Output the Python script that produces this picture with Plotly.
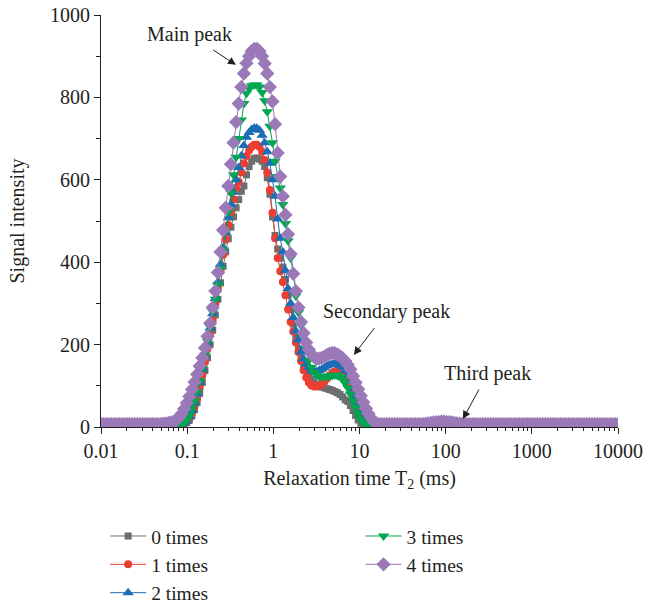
import numpy as np
import plotly.graph_objects as go

# ---------------- data ----------------
# T2 sampling grid (ms): 200 log-spaced points from 0.01 to 10000
T2_MS = np.logspace(-2, 4, 200).tolist()

# baseline before the main peak (indices 0-19)
HEAD = [7, 7, 7, 7, 7, 7, 7, 7, 7, 7,
        7, 7, 7, 7, 7, 7, 7, 7, 7, 7]

# baseline after the main peak incl. the tiny third peak (indices 110-199)
TAIL = [7, 7, 7, 7, 7, 7, 7, 7, 7, 7,
        7, 7, 7, 7, 7, 8, 9, 10, 11, 12,
        12, 13, 13, 12, 12, 11, 10, 9, 8, 7,
        7, 7, 7, 7, 7, 7, 7, 7, 7, 7,
        7, 7, 7, 7, 7, 7, 7, 7, 7, 7,
        7, 7, 7, 7, 7, 7, 7, 7, 7, 7,
        7, 7, 7, 7, 7, 7, 7, 7, 7, 7,
        7, 7, 7, 7, 7, 7, 7, 7, 7, 7,
        7, 7, 7, 7, 7, 7, 7, 7, 7, 7]

# main + secondary peak portion (indices 20-109) for each series
CORE_0 = [7, 7, 7, 7, 7, 7, 7, 7, 7, 7,
          7, 7, 8, 11, 17, 28, 42, 60, 82, 108,
          137, 168, 200, 235, 272, 310, 350, 390, 425, 457,
          485, 510, 532, 552, 572, 585, 612, 632, 645, 652,
          653, 650, 645, 632, 605, 565, 510, 465, 432, 410,
          388, 358, 320, 285, 250, 218, 190, 168, 152, 138,
          125, 115, 108, 103, 100, 97, 95, 93, 91, 89,
          86, 83, 79, 73, 66, 62, 52, 40, 28, 17,
          9, 7, 7, 7, 7, 7, 7, 7, 7, 7]

CORE_1 = [7, 7, 7, 7, 7, 7, 7, 7, 7, 7,
          7, 7, 8, 12, 20, 34, 50, 70, 95, 125,
          157, 190, 224, 260, 298, 338, 378, 418, 455, 490,
          522, 552, 580, 595, 618, 640, 658, 671, 680, 685,
          685, 680, 668, 648, 618, 575, 520, 458, 410, 378,
          352, 320, 285, 255, 232, 205, 182, 160, 138, 120,
          108, 101, 98, 98, 100, 105, 111, 118, 125, 131,
          135, 137, 136, 132, 124, 112, 97, 80, 62, 45,
          29, 16, 9, 7, 7, 7, 7, 7, 7, 7]

CORE_2 = [7, 7, 7, 7, 7, 7, 7, 7, 7, 7,
          7, 7, 9, 14, 24, 40, 58, 80, 108, 140,
          172, 205, 240, 275, 312, 352, 395, 435, 472, 508,
          540, 570, 600, 630, 658, 683, 703, 715, 722, 726,
          725, 720, 708, 690, 668, 640, 600, 560, 505, 458,
          425, 380, 336, 300, 266, 233, 211, 182, 165, 153,
          145, 139, 136, 135, 137, 140, 144, 148, 151, 153,
          154, 153, 150, 145, 137, 126, 111, 93, 74, 55,
          37, 21, 11, 7, 7, 7, 7, 7, 7, 7]

CORE_3 = [7, 7, 7, 7, 7, 7, 7, 7, 7, 7,
          7, 8, 11, 17, 28, 44, 63, 86, 112, 142,
          175, 208, 243, 280, 310, 345, 385, 430, 475, 522,
          568, 612, 655, 700, 745, 785, 810, 822, 828, 830,
          830, 825, 812, 792, 765, 730, 690, 645, 608, 580,
          540, 494, 452, 410, 368, 318, 278, 246, 220, 190,
          162, 145, 133, 126, 123, 122, 122, 123, 124, 125,
          126, 125, 122, 116, 107, 95, 80, 64, 48, 32,
          19, 10, 7, 7, 7, 7, 7, 7, 7, 7]

CORE_4 = [7, 7, 7, 7, 8, 8, 10, 11, 13, 17,
          23, 32, 44, 58, 74, 91, 109, 128, 148, 168,
          192, 220, 252, 290, 330, 375, 425, 478, 532, 585,
          638, 690, 740, 785, 825, 858, 883, 900, 912, 918,
          918, 912, 900, 882, 858, 825, 790, 735, 665, 608,
          560, 515, 468, 420, 372, 330, 290, 255, 228, 205,
          188, 177, 170, 166, 166, 168, 171, 175, 178, 180,
          179, 176, 172, 167, 160, 151, 140, 124, 108, 92,
          76, 60, 45, 32, 21, 13, 9, 7, 7, 7]

SERIES_NAMES = ["0 times", "1 times", "2 times", "3 times", "4 times"]
SERIES_CORES = [CORE_0, CORE_1, CORE_2, CORE_3, CORE_4]

X_TICK_VALS = [0.01, 0.1, 1, 10, 100, 1000, 10000]
X_TICK_TEXT = ["0.01", "0.1", "1", "10", "100", "1000", "10000"]
Y_TICK_VALS = [0, 200, 400, 600, 800, 1000]

# ---------------- style ----------------
COLORS = ["#6d6e70", "#ee3e32", "#1b6db5", "#00a650", "#9b79b8"]
SYMBOLS = ["square", "circle", "triangle-up", "triangle-down", "diamond"]
SIZES = [7, 8, 10, 10, 11]
LEGENDS = ["legend", "legend", "legend", "legend2", "legend2"]
TXT = "#231f20"
FONT = "Liberation Serif"

fig = go.Figure()
for name, core, c, s, sz, lg in zip(SERIES_NAMES, SERIES_CORES, COLORS,
                                     SYMBOLS, SIZES, LEGENDS):
    y = HEAD + core + TAIL
    fig.add_trace(go.Scatter(
        x=T2_MS, y=y, name=name, mode="lines+markers",
        line=dict(color=c, width=1),
        marker=dict(symbol=s, size=sz, color=c, line=dict(width=0)),
        legend=lg,
    ))

minor_x = [m * 10.0 ** e for e in range(-2, 4) for m in range(2, 10)]

fig.update_layout(
    width=659, height=610,
    margin=dict(l=101, r=41, t=15, b=183, autoexpand=False),
    paper_bgcolor="white", plot_bgcolor="white",
    font=dict(family=FONT, size=20, color=TXT),
    showlegend=True,
    legend=dict(x=0.008, y=-0.218, xanchor="left", yanchor="top",
                bgcolor="rgba(0,0,0,0)", font=dict(size=19.5),
                tracegroupgap=0, itemwidth=36),
    legend2=dict(x=0.502, y=-0.218, xanchor="left", yanchor="top",
                 bgcolor="rgba(0,0,0,0)", font=dict(size=19.5),
                 tracegroupgap=0, itemwidth=36),
    xaxis=dict(
        type="log", range=[-2, 4], automargin=False,
        showline=True, linecolor=TXT, linewidth=1, mirror=False,
        ticks="outside", ticklen=6, tickwidth=1, tickcolor=TXT,
        tickvals=X_TICK_VALS, ticktext=X_TICK_TEXT,
        ticklabeloverflow="allow",
        minor=dict(ticks="outside", ticklen=3, tickwidth=1,
                   tickcolor=TXT, tickvals=minor_x),
        showgrid=False, zeroline=False,
        title=dict(text="Relaxation time T<sub>2</sub> (ms)",
                   font=dict(size=20), standoff=9),
    ),
    yaxis=dict(
        range=[0, 1000], automargin=False,
        showline=True, linecolor=TXT, linewidth=1,
        ticks="outside", ticklen=6, tickwidth=1, tickcolor=TXT,
        tickvals=Y_TICK_VALS, ticklabeloverflow="allow",
        minor=dict(ticks="outside", ticklen=4, tickwidth=1,
                   tickcolor=TXT, dtick=100),
        showgrid=False, zeroline=False,
        title=dict(text="Signal intensity", font=dict(size=20), standoff=20),
    ),
)

ann_font = dict(family=FONT, size=20, color=TXT)
# (text, arrow head x, arrow head y in paper units, text offset ax, ay in px)
ANNOTS = [("Main peak", 0.261, 0.879, -46, -30),
          ("Secondary peak", 0.489, 0.175, 33, -43),
          ("Third peak", 0.700, 0.0194, 25, -46)]
for t, x, y, ax, ay in ANNOTS:
    fig.add_annotation(text=t, x=x, y=y, xref="paper", yref="paper",
                       showarrow=True, ax=ax, ay=ay, font=ann_font,
                       arrowhead=2, arrowsize=1.6, arrowwidth=1,
                       arrowcolor=TXT, standoff=0, startstandoff=4)

# remove the default 8 px page margin so the figure sits at the window origin
fig.write_html("out.html",
               config={"displayModeBar": False},
               post_script="document.body.style.margin='0px';")
